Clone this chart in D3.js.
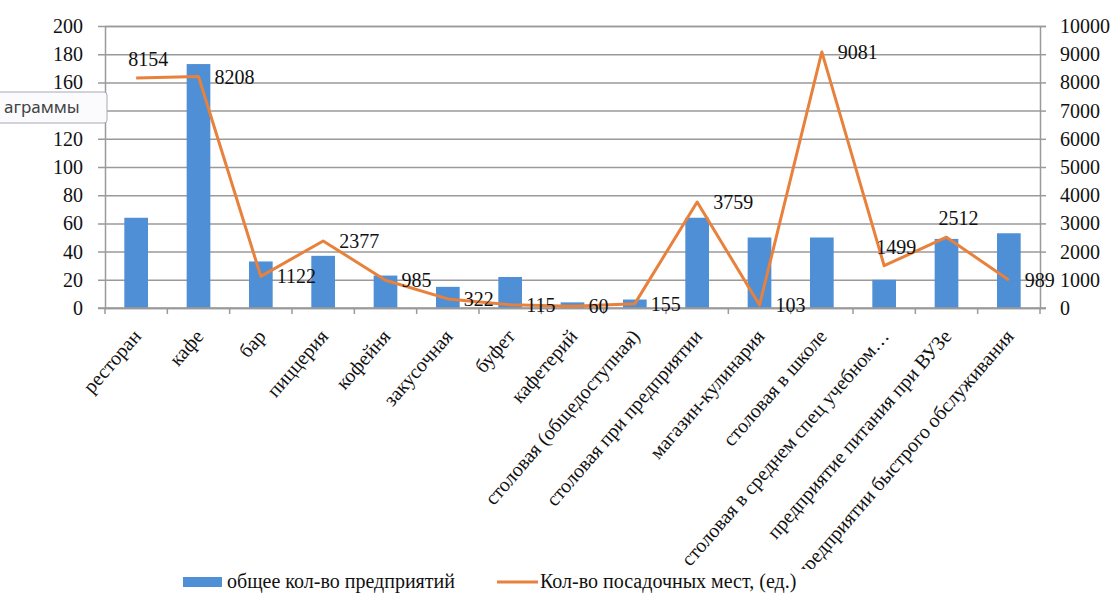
<!DOCTYPE html>
<html lang="ru">
<head>
<meta charset="UTF-8">
<title>Предприятия питания</title>
<style>
  body { margin: 0; background: #fff; }
  svg { display: block; }
  text { font-family: "Liberation Serif", "Times New Roman", serif; fill: #111; }
</style>
</head>
<body>
<svg id="chart"></svg>
<script src="https://d3js.org/d3.v7.min.js"></script>
<script>
var categories = ["ресторан", "кафе", "бар", "пиццерия", "кофейня", "закусочная", "буфет",
  "кафетерий", "столовая (общедоступная)", "столовая при предприятии", "магазин-кулинария",
  "столовая в школе", "столовая в среднем спец учебном…", "предприятие питания при ВУЗе",
  "предприятии быстрого обслуживания"];
var enterprises = [64, 173, 33, 37, 23, 15, 22, 4, 6, 64, 50, 50, 20, 49, 53];
var seats = [8154, 8208, 1122, 2377, 985, 322, 115, 60, 155, 3759, 103, 9081, 1499, 2512, 989];
var labelPlace = ["above", "right", "right", "right", "right", "right", "right", "right",
  "right", "right", "right", "right", "above", "above", "right"];
var leftTicks = [0, 20, 40, 60, 80, 100, 120, 140, 160, 180, 200];
var rightTicks = [0, 1000, 2000, 3000, 4000, 5000, 6000, 7000, 8000, 9000, 10000];
var legendNames = ["общее кол-во предприятий", "Кол-во посадочных мест, (ед.)"];

var width = 1119, height = 594;
var plotL = 105, plotR = 1040, plotT = 26, plotB = 308;
var barColor = "#4e8fd5", lineColor = "#e8813c", gridColor = "#9a9a9a";
var serif = "'Liberation Serif', 'Times New Roman', serif";

var svg = d3.select("#chart").attr("width", width).attr("height", height);

var x = d3.scaleBand().domain(categories).range([plotL, plotR])
  .paddingInner(0.62).paddingOuter(0.31);
var yL = d3.scaleLinear().domain([0, 200]).range([plotB, plotT]);
var yR = d3.scaleLinear().domain([0, 10000]).range([plotB, plotT]);

// gridlines + left axis
svg.append("g")
  .attr("transform", "translate(" + plotL + ",0)")
  .call(d3.axisLeft(yL).tickValues(leftTicks).tickSize(-(plotR - plotL)).tickPadding(22))
  .call(g => g.select(".domain").attr("stroke", gridColor).attr("stroke-width", 1.5))
  .call(g => g.selectAll(".tick line").attr("stroke", gridColor).attr("stroke-width", 1.5)
    .attr("x1", -7))
  .call(g => g.selectAll(".tick text").style("font-size", "20px").style("font-family", serif).style("fill", "#111"));

// right axis
svg.append("g")
  .attr("transform", "translate(" + plotR + ",0)")
  .call(d3.axisRight(yR).tickValues(rightTicks).tickFormat(d3.format("d")).tickSize(6).tickPadding(14))
  .call(g => g.select(".domain").attr("stroke", gridColor).attr("stroke-width", 1.5))
  .call(g => g.selectAll(".tick line").attr("stroke", gridColor).attr("stroke-width", 1.5))
  .call(g => g.selectAll(".tick text").style("font-size", "20px").style("font-family", serif).style("fill", "#111"));

// bars
svg.append("g").selectAll("rect")
  .data(enterprises)
  .enter()
  .append("rect")
    .attr("x", (d, i) => x(categories[i]))
    .attr("width", x.bandwidth())
    .attr("y", d => yL(d))
    .attr("height", d => plotB - yL(d))
    .attr("fill", barColor);

// bottom axis line with ticks at category boundaries
var step = x.step();
svg.append("line")
  .attr("x1", plotL - 7).attr("x2", plotR + 6)
  .attr("y1", plotB).attr("y2", plotB)
  .attr("stroke", gridColor).attr("stroke-width", 1.5);
svg.append("g").selectAll("line")
  .data(d3.range(categories.length + 1))
  .enter()
  .append("line")
    .attr("x1", i => plotL + i * step).attr("x2", i => plotL + i * step)
    .attr("y1", plotB).attr("y2", plotB + 6)
    .attr("stroke", gridColor).attr("stroke-width", 1.5);

// category labels
svg.append("g").selectAll("text")
  .data(categories)
  .enter()
  .append("text")
    .attr("text-anchor", "end")
    .style("font-size", "20px")
    .style("font-family", serif)
    .attr("transform", d => "translate(" + (x(d) + x.bandwidth() / 2 + 6) + "," + (plotB + 29) + ") rotate(-49)")
    .text(d => d);

// line
var cx = i => x(categories[i]) + x.bandwidth() / 2;
var line = d3.line().x((d, i) => cx(i)).y(d => yR(d));
svg.append("path")
  .datum(seats)
  .attr("d", line)
  .attr("fill", "none")
  .attr("stroke", lineColor)
  .attr("stroke-width", 3)
  .attr("stroke-linejoin", "round");

// data labels
svg.append("g").selectAll("text")
  .data(seats)
  .enter()
  .append("text")
    .style("font-size", "20px")
    .style("font-family", serif)
    .attr("text-anchor", (d, i) => labelPlace[i] == "above" ? "middle" : "start")
    .attr("x", (d, i) => labelPlace[i] == "above" ? cx(i) + 12 : cx(i) + 16)
    .attr("y", (d, i) => labelPlace[i] == "above" ? yR(d) - 12 : yR(d) + 7)
    .text(d => d);

// legend (white box hides the long label tail, like in Excel)
var lg = svg.append("g").attr("transform", "translate(0,582)");
lg.append("rect").attr("x", 170).attr("y", -13).attr("width", 740).attr("height", 30).attr("fill", "#fff");
lg.append("rect").attr("x", 183).attr("y", -5).attr("width", 39).attr("height", 10).attr("fill", barColor);
lg.append("text").attr("x", 227).attr("y", 6).style("font-size", "20px").style("font-family", serif).text(legendNames[0]);
lg.append("line").attr("x1", 497).attr("x2", 538).attr("y1", 0).attr("y2", 0)
  .attr("stroke", lineColor).attr("stroke-width", 3);
lg.append("text").attr("x", 540).attr("y", 6).style("font-size", "20px").style("font-family", serif).text(legendNames[1]);

// leftover Excel tooltip
var tip = svg.append("g");
tip.append("rect").attr("x", -8).attr("y", 92).attr("width", 115).attr("height", 31).attr("rx", 3)
  .attr("fill", "#fbfbfd").attr("stroke", "#a8a8b8").attr("stroke-width", 1);
tip.append("text").attr("x", 4).attr("y", 113).style("font-size", "17px")
  .style("font-family", "'Noto Sans', sans-serif").style("fill", "#444")
  .text("аграммы");
</script>
</body>
</html>
